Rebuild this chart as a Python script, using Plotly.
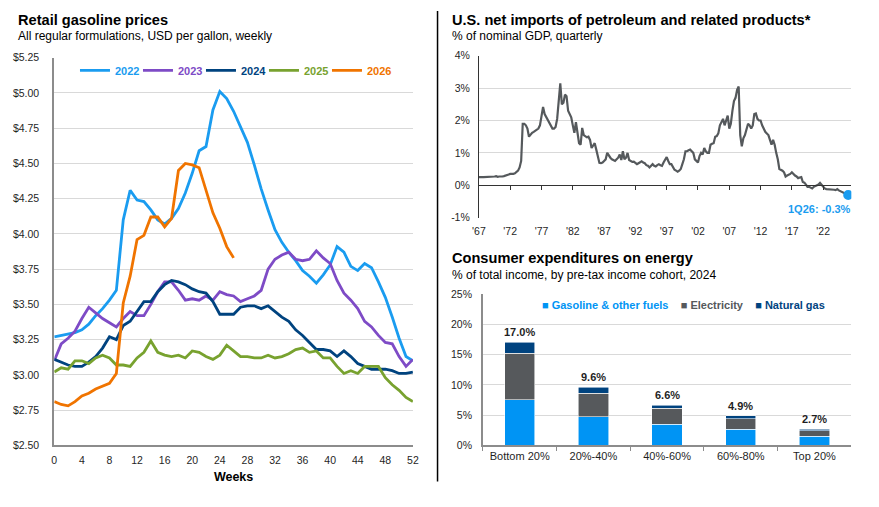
import plotly.graph_objects as go

W, H = 879, 507
FONT = "Liberation Sans, Arial, sans-serif"

# ---------------- Data: retail gasoline prices (USD/gal, weekly) ----------------
weeks = list(range(53))
gas_2022 = [3.27, 3.28, 3.29, 3.30, 3.32, 3.36, 3.42, 3.47, 3.53, 3.60,
            4.10, 4.31, 4.24, 4.23, 4.17, 4.10, 4.07, 4.11, 4.18, 4.29,
            4.43, 4.59, 4.62, 4.88, 5.01, 4.96, 4.87, 4.76, 4.65, 4.49,
            4.32, 4.17, 4.03, 3.94, 3.87, 3.81, 3.74, 3.70, 3.65, 3.71,
            3.78, 3.91, 3.87, 3.77, 3.74, 3.79, 3.76, 3.66, 3.55, 3.41,
            3.26, 3.13, 3.10]
gas_2023 = [3.10, 3.22, 3.26, 3.31, 3.40, 3.48, 3.44, 3.40, 3.37, 3.34,
            3.40, 3.45, 3.42, 3.42, 3.50, 3.59, 3.66, 3.66, 3.60, 3.53,
            3.54, 3.53, 3.56, 3.53, 3.59, 3.57, 3.56, 3.52, 3.54, 3.56,
            3.60, 3.75, 3.82, 3.85, 3.87, 3.82, 3.81, 3.82, 3.88, 3.83,
            3.79, 3.67, 3.58, 3.53, 3.47, 3.38, 3.34, 3.28, 3.23, 3.22,
            3.13, 3.06, 3.11]
gas_2024 = [3.11, 3.09, 3.07, 3.06, 3.06, 3.09, 3.13, 3.19, 3.27, 3.25,
            3.35, 3.38, 3.45, 3.52, 3.52, 3.59, 3.64, 3.67, 3.66, 3.64,
            3.61, 3.59, 3.58, 3.52, 3.43, 3.43, 3.43, 3.48, 3.49, 3.49,
            3.47, 3.49, 3.45, 3.41, 3.38, 3.32, 3.28, 3.23, 3.18, 3.18,
            3.17, 3.13, 3.17, 3.13, 3.08, 3.06, 3.04, 3.04, 3.04, 3.03,
            3.01, 3.01, 3.02]
gas_2025 = [3.02, 3.05, 3.04, 3.10, 3.10, 3.08, 3.12, 3.14, 3.12, 3.07,
            3.07, 3.06, 3.12, 3.16, 3.24, 3.16, 3.14, 3.13, 3.14, 3.12,
            3.17, 3.16, 3.13, 3.11, 3.14, 3.21, 3.17, 3.13, 3.13, 3.12,
            3.12, 3.14, 3.12, 3.13, 3.15, 3.18, 3.19, 3.16, 3.17, 3.12,
            3.12, 3.06, 3.01, 3.03, 3.01, 3.06, 3.06, 3.06, 2.98, 2.93,
            2.89, 2.84, 2.81]
gas_2026 = [2.81, 2.79, 2.78, 2.81, 2.85, 2.87, 2.90, 2.92, 2.94, 3.01,
            3.51, 3.70, 3.96, 3.99, 4.12, 4.12, 4.05, 4.11, 4.45, 4.50,
            4.49, 4.47, 4.31, 4.15, 4.04, 3.91, 3.83]
years = ["2022", "2023", "2024", "2025", "2026"]
year_colors = ["#1A9CF0", "#7E4BC6", "#00437F", "#78A22F", "#F07400"]
week_ticks = list(range(0, 53, 4))

# ---------------- Data: US net petroleum imports, % of GDP (quarterly, 1Q67-1Q26) ----------------
imports = [
    0.25, 0.24, 0.25, 0.25,   # 1967
    0.25, 0.25, 0.25, 0.26,   # 1968
    0.25, 0.26, 0.27, 0.28,   # 1969
    0.26, 0.27, 0.26, 0.27,   # 1970
    0.28, 0.29, 0.31, 0.33,   # 1971
    0.35, 0.34, 0.35, 0.37,   # 1972
    0.40, 0.45, 0.55, 0.75,   # 1973
    1.90, 1.90, 1.85, 1.75,   # 1974
    1.50, 1.58, 1.62, 1.65,   # 1975
    1.68, 1.72, 1.75, 1.85,   # 1976
    2.12, 2.42, 2.20, 2.10,   # 1977
    2.00, 1.90, 1.80, 1.75,   # 1978
    1.75, 1.80, 2.05, 2.60,   # 1979
    3.15, 2.50, 2.55, 2.80,   # 1980
    2.75, 2.30, 2.20, 2.10,   # 1981
    1.85, 1.62, 1.95, 1.65,   # 1982
    1.30, 1.25, 1.77, 1.55,   # 1983
    1.50, 1.48, 1.50, 1.40,   # 1984
    1.15, 1.25, 1.30, 1.10,   # 1985
    0.90, 0.69, 0.68, 0.70,   # 1986
    0.75, 0.80, 1.00, 0.90,   # 1987
    0.85, 0.80, 0.78, 0.75,   # 1988
    0.80, 0.85, 0.95, 0.78,   # 1989
    1.05, 0.80, 0.85, 1.00,   # 1990
    0.78, 0.75, 0.72, 0.73,   # 1991
    0.70, 0.65, 0.68, 0.72,   # 1992
    0.74, 0.70, 0.68, 0.62,   # 1993
    0.60, 0.55, 0.62, 0.65,   # 1994
    0.60, 0.58, 0.62, 0.65,   # 1995
    0.62, 0.60, 0.70, 0.80,   # 1996
    0.87, 0.75, 0.65, 0.65,   # 1997
    0.55, 0.48, 0.45, 0.42,   # 1998
    0.45, 0.50, 0.65, 0.80,   # 1999
    1.05, 1.05, 1.08, 1.10,   # 2000
    1.05, 1.00, 0.80, 0.75,   # 2001
    0.70, 0.90, 1.00, 0.95,   # 2002
    1.15, 1.05, 1.00, 1.00,   # 2003
    1.25, 1.28, 1.30, 1.50,   # 2004
    1.52, 1.60, 1.85, 1.95,   # 2005
    2.05, 1.85, 2.00, 2.15,   # 2006
    1.75, 1.90, 2.30, 2.60,   # 2007
    2.70, 2.95, 3.05, 1.55,   # 2008
    1.20, 1.45, 1.55, 1.70,   # 2009
    1.90, 1.85, 1.75, 1.85,   # 2010
    2.20, 2.22, 2.05, 2.00,   # 2011
    2.00, 1.85, 1.72, 1.65,   # 2012
    1.60, 1.55, 1.40, 1.25,   # 2013
    1.40, 1.25, 1.00, 0.80,   # 2014
    0.50, 0.48, 0.45, 0.40,   # 2015
    0.27, 0.30, 0.32, 0.35,   # 2016
    0.40, 0.33, 0.30, 0.27,   # 2017
    0.22, 0.24, 0.25, 0.10,   # 2018
    0.08, 0.02, -0.05, -0.05, # 2019
    -0.08, -0.10, -0.05, -0.03,  # 2020
    -0.02, 0.02, 0.07, 0.00,  # 2021
    -0.05, -0.10, -0.12, -0.12,  # 2022
    -0.13, -0.13, -0.14, -0.14,  # 2023
    -0.15, -0.12, -0.16, -0.18,  # 2024
    -0.22, -0.22, -0.24, -0.26,  # 2025
    -0.30,                    # 1Q26
]
imp_start_year = 1967
imp_ticks = list(range(1967, 2023, 5))
imp_ticktext = ["'" + str(y)[2:] for y in imp_ticks]
imp_last_label = "1Q26"
imp_yticks = [-1, 0, 1, 2, 3, 4]

# ---------------- Data: consumer energy expenditures, % of income ----------------
cohorts = ["Bottom 20%", "20%-40%", "40%-60%", "60%-80%", "Top 20%"]
gasoline = [7.5, 4.7, 3.5, 2.7, 1.5]
electricity = [7.7, 3.9, 2.6, 1.7, 0.9]
natgas = [1.8, 1.0, 0.5, 0.5, 0.3]
energy_names = ["Gasoline &amp; other fuels", "Electricity", "Natural gas"]
energy_colors = ["#0094F4", "#56595C", "#00437F"]

BLUE = "#1A9CF0"
GRID = "#D9D9D9"
AXGRAY = "#8C8C8C"
TXT = "#1F1F1F"


def fx(p):
    return p / W


def fy(p):
    return 1 - p / H


fig = go.Figure()

# ---- left: gasoline prices ----
all_series = [gas_2022, gas_2023, gas_2024, gas_2025, gas_2026]
for i, (name, vals, col) in enumerate(zip(years, all_series, year_colors)):
    fig.add_trace(go.Scatter(
        x=weeks[:len(vals)], y=vals, mode="lines",
        name=f"<b><span style='color:{col}'>{name}</span></b>",
        line=dict(color=col, width=2.8),
        legendwidth=(40 if i == len(years) - 1 else None),
        xaxis="x", yaxis="y", legend="legend"))

# ---- top right: net imports ----
imp_x = [imp_start_year + 0.25 * i for i in range(len(imports))]
fig.add_trace(go.Scatter(x=imp_x, y=imports, mode="lines",
                         line=dict(color="#55595C", width=2.2),
                         xaxis="x2", yaxis="y2", showlegend=False))
fig.add_trace(go.Scatter(x=[imp_x[-1]], y=[imports[-1]], mode="markers",
                         marker=dict(color=BLUE, size=10),
                         xaxis="x4", yaxis="y4", showlegend=False))
fig.add_annotation(x=imp_x[-1], y=imports[-1], xref="x2", yref="y2",
                   text=f"<b>{imp_last_label}: {imports[-1]:.1f}%</b>",
                   showarrow=False, xanchor="right", yanchor="top",
                   xshift=5, yshift=-6,
                   font=dict(family=FONT, size=11, color=BLUE))

# ---- bottom right: stacked bars ----
for name, vals, col in zip(energy_names, [gasoline, electricity, natgas], energy_colors):
    fig.add_trace(go.Bar(x=cohorts, y=vals, name=name,
                         marker=dict(color=col, line=dict(color="rgba(255,255,255,0.7)", width=0.8)),
                         xaxis="x3", yaxis="y3", showlegend=False))
totals = [round(a + b + c, 1) for a, b, c in zip(gasoline, electricity, natgas)]
for c, t in zip(cohorts, totals):
    fig.add_annotation(x=c, y=t, xref="x3", yref="y3", text=f"<b>{t:.1f}%</b>",
                       showarrow=False, yanchor="bottom", yshift=2,
                       font=dict(family=FONT, size=11, color=TXT))
legend_txt = "\u00a0\u00a0\u00a0\u00a0".join(
    f"<span style='color:{c}'><b>\u25a0 {n}</b></span>" for n, c in zip(energy_names, energy_colors))
fig.add_annotation(x=fx(541), y=fy(306), xref="paper", yref="paper", text=legend_txt,
                   showarrow=False, xanchor="left", yanchor="middle",
                   font=dict(family=FONT, size=11))

# ---- titles ----
def title(x, y, text, size, bold):
    fig.add_annotation(x=fx(x), y=fy(y), xref="paper", yref="paper",
                       text=f"<b>{text}</b>" if bold else text, showarrow=False,
                       xanchor="left", yanchor="middle",
                       font=dict(family=FONT, size=size, color="#000"))

title(9, 14.5, "Retail gasoline prices", 14.6, True)
title(9, 31, "All regular formulations, USD per gallon, weekly", 12, False)
title(450, 14.5, "U.S. net imports of petroleum and related products*", 14.6, True)
title(450, 31, "% of nominal GDP, quarterly", 12, False)
title(450, 258, "Consumer expenditures on energy", 14.6, True)
title(450, 276, "% of total income, by pre-tax income cohort, 2024", 12, False)

# divider
fig.add_shape(type="line", xref="paper", yref="paper", x0=fx(437), x1=fx(437),
              y0=fy(5), y1=fy(487), line=dict(color="#000", width=1.5))

tickfont = dict(family=FONT, size=10.5, color=TXT)

# domains
L_x = [fx(48), fx(412)]
L_y = [fy(450), fy(53)]
TR_x = [fx(479), fx(857)]
TR_y = [fy(216.7), fy(51)]
BR_x = [fx(483), fx(857)]
BR_y = [fy(450), fy(295)]
tr_range = [-1, 4]
zero_pos = TR_y[0] + (0 - tr_range[0]) / (tr_range[1] - tr_range[0]) * (TR_y[1] - TR_y[0])
imp_range = [1967, 2026.5]

fig.update_layout(
    width=W, height=H, autosize=False,
    margin=dict(l=0, r=0, t=0, b=0),
    paper_bgcolor="white", plot_bgcolor="white",
    font=dict(family=FONT, color=TXT),
    barmode="stack", bargap=0.59,
    showlegend=True,
    legend=dict(orientation="h", x=fx(69), y=fy(51), xanchor="left", yanchor="top",
                font=dict(family=FONT, size=11), bgcolor="rgba(0,0,0,0)",
                entrywidth=18, entrywidthmode="pixels", itemwidth=30, traceorder="normal"),
    xaxis=dict(domain=L_x, anchor="y", range=[0, 52], tickvals=week_ticks,
               showgrid=False, zeroline=False, showline=True, linecolor=AXGRAY, linewidth=1.5,
               ticks="outside", ticklen=4, tickcolor="rgba(0,0,0,0)", tickfont=tickfont,
               title=dict(text="<b>Weeks</b>", font=dict(family=FONT, size=12.5, color="#000"), standoff=8)),
    yaxis=dict(domain=L_y, anchor="x", range=[2.5, 5.25], dtick=0.25, tick0=2.5,
               tickprefix="$", tickformat=".2f", gridcolor=GRID, gridwidth=1,
               zeroline=False, showline=True, linecolor=AXGRAY, linewidth=2,
               ticks="outside", ticklen=11, tickcolor="rgba(0,0,0,0)", tickfont=tickfont),
    xaxis2=dict(domain=TR_x, anchor="y2", range=imp_range, tickvals=imp_ticks, ticktext=imp_ticktext,
                showgrid=False, zeroline=False, showline=False,
                ticks="outside", ticklen=4, tickcolor="rgba(0,0,0,0)", tickfont=tickfont),
    yaxis2=dict(domain=TR_y, anchor="x2", range=tr_range, tickvals=imp_yticks,
                ticktext=[f"{v}%" for v in imp_yticks],
                showgrid=False, zeroline=False, showline=True, linecolor="#333", linewidth=1,
                ticks="outside", ticklen=6, tickcolor="rgba(0,0,0,0)", tickfont=tickfont),
    xaxis4=dict(overlaying="x2", anchor="free", position=zero_pos, side="bottom", range=imp_range,
                tickvals=imp_ticks, showticklabels=False, showgrid=False, zeroline=False,
                showline=True, linecolor="#333", linewidth=1.2,
                ticks="outside", ticklen=4, tickcolor="#333", tickwidth=1),
    yaxis4=dict(overlaying="y2", anchor="free", position=TR_x[0], range=tr_range,
                tickvals=[1, 2, 3, 4], showticklabels=False, showgrid=True, gridcolor=GRID,
                zeroline=False, showline=False, ticks=""),
    xaxis3=dict(domain=BR_x, anchor="y3", type="category", showgrid=False, zeroline=False,
                showline=True, linecolor=AXGRAY, linewidth=1.5,
                ticks="outside", tickson="boundaries", ticklen=4, tickcolor=AXGRAY,
                tickfont=dict(family=FONT, size=11, color=TXT)),
    yaxis3=dict(domain=BR_y, anchor="x3", range=[0, 25], dtick=5, ticksuffix="%",
                gridcolor=GRID, zeroline=False, showline=True, linecolor=AXGRAY, linewidth=1.5,
                ticks="outside", ticklen=7, tickcolor="rgba(0,0,0,0)", tickfont=tickfont),
)

fig.write_html("out.html")
